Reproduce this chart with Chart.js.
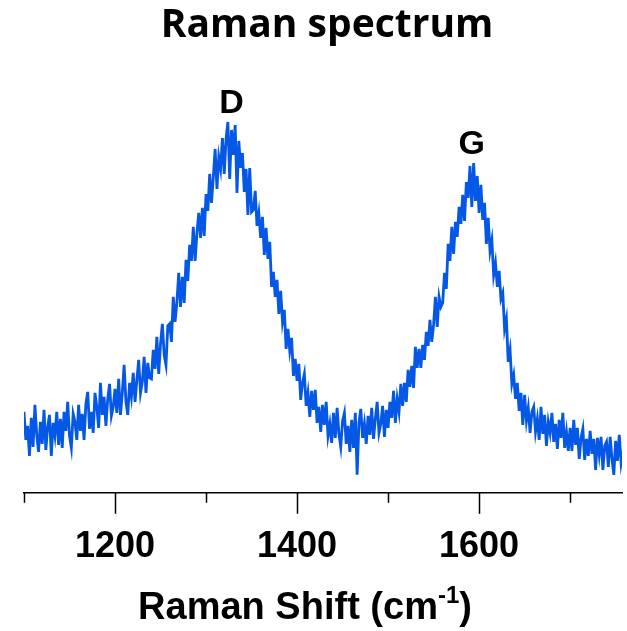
<!DOCTYPE html>
<html>
<head>
<meta charset="utf-8">
<title>Raman spectrum</title>
<script src="https://cdn.jsdelivr.net/npm/chart.js@4.4.1/dist/chart.umd.min.js"></script>
<style>
  html, body { margin: 0; padding: 0; background: #fff; }
  #chart-wrap { width: 627px; height: 631px; }
</style>
</head>
<body>
<div id="chart-wrap"><canvas id="raman-chart"></canvas></div>
<script>
// Raman shift sampling grid (cm-1)
const shiftStart = 1100;
const shiftStep = 2;

// Measured intensity (a.u.), one value per grid point, 20 cm-1 per row
const intensity = [
    81, 53, 67, 37, 75, 46, 88, 58, 41, 71,
    49, 83, 43, 66, 78, 37, 70, 57, 81, 48,
    74, 45, 81, 62, 91, 57, 45, 79, 71, 53,
    88, 62, 79, 53, 89, 101, 64, 81, 60, 100,
    86, 65, 110, 78, 96, 67, 94, 109, 77, 86,
    104, 80, 114, 78, 100, 128, 91, 78, 110, 96,
    120, 91, 113, 133, 100, 111, 136, 100, 130, 115,
    114, 143, 124, 156, 119, 149, 169, 138, 128, 167,
    169, 151, 196, 171, 191, 220, 186, 216, 190, 233,
    212, 248, 232, 266, 232, 260, 280, 255, 285, 257,
    299, 282, 319, 290, 316, 344, 304, 336, 324, 355,
    319, 354, 371, 314, 363, 338, 368, 300, 352, 325,
    340, 301, 324, 278, 325, 281, 283, 302, 267, 280,
    255, 276, 238, 265, 234, 251, 206, 221, 196, 213,
    179, 202, 171, 183, 144, 164, 142, 155, 117, 134,
    112, 129, 93, 110, 119, 87, 100, 76, 102, 83,
    103, 70, 86, 61, 88, 68, 91, 57, 69, 50,
    80, 55, 85, 59, 46, 72, 80, 49, 67, 41,
    73, 45, 80, 18, 70, 84, 55, 69, 49, 77,
    58, 85, 54, 74, 91, 60, 69, 87, 56, 83,
    65, 91, 75, 102, 70, 94, 81, 109, 87, 110,
    91, 123, 106, 127, 105, 146, 125, 144, 125, 148,
    133, 161, 147, 173, 151, 168, 196, 166, 196, 186,
    190, 220, 204, 249, 232, 266, 239, 271, 256, 286,
    269, 298, 272, 311, 295, 327, 286, 330, 292, 317,
    280, 308, 273, 290, 249, 275, 242, 253, 218, 230,
    206, 222, 194, 200, 164, 174, 131, 143, 109, 118,
    94, 110, 82, 100, 68, 98, 72, 85, 60, 81,
    86, 61, 74, 53, 86, 59, 78, 47, 71, 60,
    80, 51, 69, 44, 73, 55, 80, 45, 61, 42,
    65, 42, 73, 48, 65, 34, 55, 64, 33, 54,
    37, 62, 39, 54, 23, 55, 38, 56, 23, 47,
    51, 26, 56, 34, 18, 52, 32, 58, 30, 42
];

// Axis ticks: every 100 cm-1, numbers only on the even hundreds
const tickValues = [1100, 1200, 1300, 1400, 1500, 1600, 1700];
const labeledTicks = [1200, 1400, 1600];

// Band names
const peakNames = ['D', 'G'];
const peakShifts = [1328, 1592];

const points = intensity.map((v, i) => ({ x: shiftStart + i * shiftStep, y: v }));

const numberFont = '"Liberation Sans", Arial, sans-serif';

/**
 * Tick marks, band names, title and axis title
 */
const spectrumDecor = {
    id: 'spectrumDecor',
    afterDraw(chart) {
        const { ctx, chartArea } = chart;
        const xs = chart.scales.x;
        const ys = chart.scales.y;
        ctx.save();

        // long ticks under labelled values, short ones between
        ctx.strokeStyle = '#000';
        ctx.lineWidth = 1.5;
        tickValues.forEach(v => {
            const px = Math.round(xs.getPixelForValue(v)) + 0.5;
            const len = labeledTicks.includes(v) ? 21 : 10;
            ctx.beginPath();
            ctx.moveTo(px, chartArea.bottom);
            ctx.lineTo(px, chartArea.bottom + len);
            ctx.stroke();
        });

        // band names sit just above the highest point of each band
        ctx.fillStyle = '#000';
        ctx.textAlign = 'center';
        ctx.textBaseline = 'middle';
        ctx.font = 'bold 34px ' + numberFont;
        peakNames.forEach((name, k) => {
            let top = 0;
            points.forEach(p => {
                if (Math.abs(p.x - peakShifts[k]) <= 15) top = Math.max(top, p.y);
            });
            ctx.fillText(name, xs.getPixelForValue(peakShifts[k]), ys.getPixelForValue(top) - 18);
        });

        // chart title
        ctx.font = 'bold 39px "Open Sans", sans-serif';
        ctx.fillText('Raman spectrum', 327, 26);

        // axis title with superscript -1
        const mainFont = 'bold 38px ' + numberFont;
        const supFont = 'bold 24px ' + numberFont;
        const parts = [
            { text: 'Raman Shift (cm', font: mainFont, rise: 0 },
            { text: '-1', font: supFont, rise: 16 },
            { text: ')', font: mainFont, rise: 0 }
        ];
        let total = 0;
        parts.forEach(p => {
            ctx.font = p.font;
            p.width = ctx.measureText(p.text).width;
            total += p.width;
        });
        let cx = 305 - total / 2;
        ctx.textAlign = 'left';
        ctx.textBaseline = 'alphabetic';
        parts.forEach(p => {
            ctx.font = p.font;
            ctx.fillText(p.text, cx, 619 - p.rise);
            cx += p.width;
        });

        ctx.restore();
    }
};

document.addEventListener('DOMContentLoaded', function () {
    const ctx = document.getElementById('raman-chart');
    new Chart(ctx, {
        type: 'line',
        data: {
            datasets: [{
                label: 'Raman spectrum',
                data: points,
                borderColor: '#0558e6',
                borderWidth: 2.8,
                pointRadius: 0,
                tension: 0,
                fill: false
            }]
        },
        options: {
            responsive: true,
            maintainAspectRatio: false,
            animation: false,
            layout: {
                padding: { top: 60, left: 24, right: 5, bottom: 50 }
            },
            plugins: {
                legend: { display: false },
                tooltip: { enabled: false },
                title: { display: false }
            },
            scales: {
                x: {
                    type: 'linear',
                    min: 1100,
                    max: 1757,
                    afterBuildTicks: function (scale) {
                        scale.ticks = tickValues.map(v => ({ value: v }));
                    },
                    grid: { display: false, drawTicks: true, tickLength: 21 },
                    border: { display: true, color: '#000', width: 1.5 },
                    ticks: {
                        padding: 12,
                        color: '#000',
                        maxRotation: 0,
                        autoSkip: false,
                        font: { family: numberFont, size: 36, weight: 'bold', lineHeight: 1.2 },
                        callback: function (value) {
                            return labeledTicks.includes(value) ? String(value) : '';
                        }
                    }
                },
                y: {
                    display: false,
                    min: 0,
                    max: 433
                }
            }
        },
        plugins: [spectrumDecor]
    });
});
</script>
</body>
</html>
